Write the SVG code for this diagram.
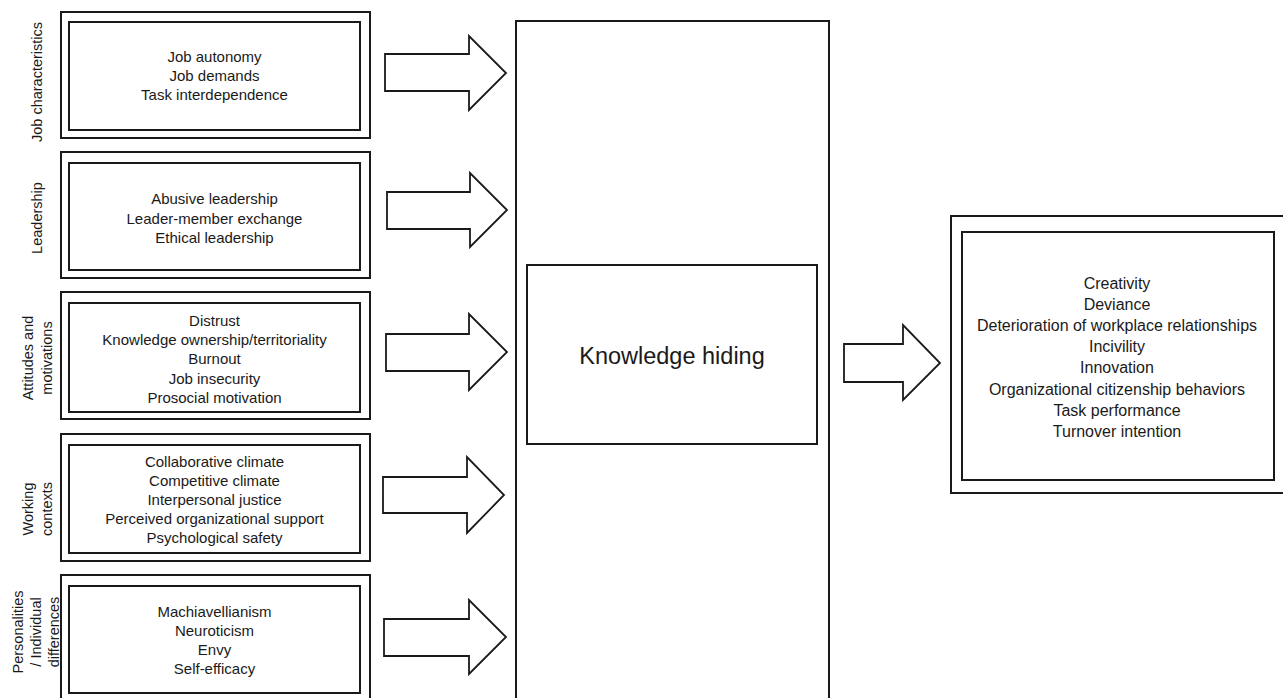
<svg xmlns="http://www.w3.org/2000/svg" width="1283" height="698" viewBox="0 0 1283 698">
  <style>
    .box { fill: #fff; stroke: #1a1a1a; stroke-width: 2; }
    .arrow { fill: #fff; stroke: #1a1a1a; stroke-width: 1.8; stroke-linejoin: miter; }
    text { font-family: "Liberation Sans", Arial, sans-serif; fill: #1a1a1a; }
    .item { font-size: 15px; text-anchor: middle; }
    .outcome { font-size: 16px; text-anchor: middle; }
    .label { font-size: 14.5px; text-anchor: middle; }
    .core { font-size: 23.5px; text-anchor: middle; }
  </style>
  <rect width="1283" height="698" fill="#fff"/>

  <!-- Antecedent: job characteristics -->
  <g id="job-characteristics">
    <rect class="box" x="61" y="12" width="309" height="126"/>
    <rect class="box" x="69" y="22" width="291" height="108"/>
    <text class="label" transform="translate(42,82) rotate(-90)">Job characteristics</text>
    <text class="item" x="214.5" y="62">Job autonomy<tspan x="214.5" dy="19">Job demands</tspan><tspan x="214.5" dy="19">Task interdependence</tspan></text>
  </g>

  <!-- Antecedent: leadership -->
  <g id="leadership">
    <rect class="box" x="61" y="152" width="309" height="126"/>
    <rect class="box" x="69" y="163" width="291" height="107"/>
    <text class="label" transform="translate(42,218) rotate(-90)">Leadership</text>
    <text class="item" x="214.5" y="204">Abusive leadership<tspan x="214.5" dy="19.5">Leader-member exchange</tspan><tspan x="214.5" dy="19.5">Ethical leadership</tspan></text>
  </g>

  <!-- Antecedent: attitudes and motivations -->
  <g id="attitudes-motivations">
    <rect class="box" x="61" y="292" width="309" height="127"/>
    <rect class="box" x="69" y="303" width="291" height="109"/>
    <text class="label" transform="translate(33,358) rotate(-90)">Attitudes and<tspan x="0" dy="19">motivations</tspan></text>
    <text class="item" x="214.5" y="326">Distrust<tspan x="214.5" dy="19.2">Knowledge ownership/territoriality</tspan><tspan x="214.5" dy="19.2">Burnout</tspan><tspan x="214.5" dy="19.2">Job insecurity</tspan><tspan x="214.5" dy="19.2">Prosocial motivation</tspan></text>
  </g>

  <!-- Antecedent: working contexts -->
  <g id="working-contexts">
    <rect class="box" x="61" y="434" width="309" height="127"/>
    <rect class="box" x="69" y="445" width="291" height="108"/>
    <text class="label" transform="translate(33,509) rotate(-90)">Working<tspan x="0" dy="19">contexts</tspan></text>
    <text class="item" x="214.5" y="467">Collaborative climate<tspan x="214.5" dy="19">Competitive climate</tspan><tspan x="214.5" dy="19">Interpersonal justice</tspan><tspan x="214.5" dy="19">Perceived organizational support</tspan><tspan x="214.5" dy="19">Psychological safety</tspan></text>
  </g>

  <!-- Antecedent: personalities / individual differences -->
  <g id="personalities">
    <rect class="box" x="61" y="575" width="309" height="140"/>
    <rect class="box" x="69" y="586" width="291" height="107"/>
    <text class="label" transform="translate(23,632) rotate(-90)">Personalities<tspan x="0" dy="18">/ Individual</tspan><tspan x="0" dy="18">differences</tspan></text>
    <text class="item" x="214.5" y="617">Machiavellianism<tspan x="214.5" dy="19">Neuroticism</tspan><tspan x="214.5" dy="19">Envy</tspan><tspan x="214.5" dy="19">Self-efficacy</tspan></text>
  </g>

  <!-- Central construct -->
  <g id="knowledge-hiding">
    <rect class="box" x="516" y="21" width="313" height="700"/>
    <rect class="box" x="527" y="265" width="290" height="179"/>
    <text class="core" x="672" y="364">Knowledge hiding</text>
  </g>

  <!-- Outcomes -->
  <g id="outcomes">
    <rect class="box" x="951" y="216" width="340" height="277"/>
    <rect class="box" x="962" y="232" width="312" height="248"/>
    <text class="outcome" x="1117" y="289">Creativity<tspan x="1117" dy="21.1">Deviance</tspan><tspan x="1117" dy="21.1">Deterioration of workplace relationships</tspan><tspan x="1117" dy="21.1">Incivility</tspan><tspan x="1117" dy="21.1">Innovation</tspan><tspan x="1117" dy="21.1">Organizational citizenship behaviors</tspan><tspan x="1117" dy="21.1">Task performance</tspan><tspan x="1117" dy="21.1">Turnover intention</tspan></text>
  </g>

  <!-- Block arrows -->
  <g id="connectors">
    <polygon class="arrow" points="385,54 469,54 469,36 506,73 469,110 469,91 385,91"/>
    <polygon class="arrow" points="387,192 470,192 470,173 507,210 470,247 470,229 387,229"/>
    <polygon class="arrow" points="386,334 469,334 469,314 507,352 469,390 469,371 386,371"/>
    <polygon class="arrow" points="383,477 467,477 467,457 504,495 467,533 467,513 383,513"/>
    <polygon class="arrow" points="384,619 469,619 469,600 506,637 469,674 469,656 384,656"/>
    <polygon class="arrow" points="844,344 903,344 903,325 940,363 903,400 903,382 844,382"/>
  </g>
</svg>
